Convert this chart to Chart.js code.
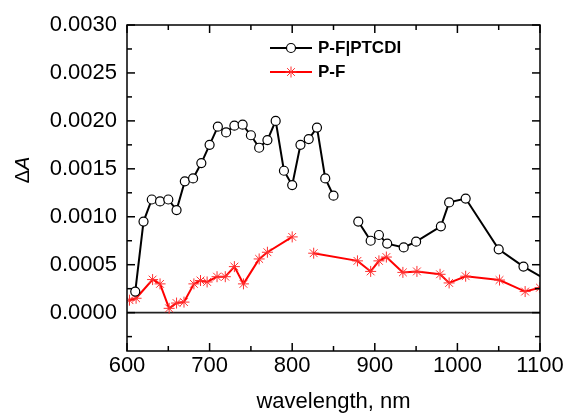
<!DOCTYPE html>
<html>
<head>
<meta charset="utf-8">
<script src="https://cdn.jsdelivr.net/npm/chart.js@4.4.0/dist/chart.umd.min.js"></script>
<style>
  html, body { margin: 0; padding: 0; background: #fff; }
  #wrap { width: 567px; height: 415px; }
</style>
</head>
<body>
<div id="wrap"><canvas id="chart"></canvas></div>
<script>
// values; a null marks a break in the line
const seriesNames = ['P-F|PTCDI', 'P-F'];

const ptcdiWl = [610, 620, 630, 640, 650, 660, 670, 680, 690, 700, 710, 720, 730, 740, 750,
                 760, 770, 780, 790, 800, 810, 820, 830, 840, 850, 865,
                 880, 895, 905, 915, 935, 950, 980, 990, 1010, 1050, 1080, 1110];
const ptcdiDA = [0.00022, 0.00095, 0.00118, 0.00116, 0.00118, 0.00107, 0.00137, 0.0014, 0.00156, 0.00175,
                 0.00194, 0.00188, 0.00195, 0.00196, 0.00185, 0.00172, 0.0018, 0.002, 0.00148, 0.00133,
                 0.00175, 0.00181, 0.00193, 0.0014, 0.00122, null,
                 0.00095, 0.00075, 0.00081, 0.00072, 0.00068, 0.00074, 0.0009, 0.00115, 0.00119,
                 0.00066, 0.00048, 0.00033];

const pfWl = [603, 611, 631, 640, 651, 660, 669, 681, 689, 697, 709, 719, 730, 741, 760, 770, 800, 812,
              826, 879, 895, 905, 914, 934, 951, 979, 990, 1010, 1051, 1082, 1100];
const pfDA = [0.00013, 0.00015, 0.000345, 0.0003, 0.000045, 0.0001, 0.00011, 0.0003, 0.000335, 0.00032,
              0.000375, 0.000375, 0.00048, 0.0003, 0.00056, 0.00063, 0.00079, null,
              0.00062, 0.00054, 0.00043, 0.00054, 0.00058, 0.00042, 0.00043, 0.0004, 0.00031, 0.00038,
              0.00034, 0.00022, 0.00026];

const xTicks = [600, 700, 800, 900, 1000, 1100];
const yTicks = [0, 0.0005, 0.001, 0.0015, 0.002, 0.0025, 0.003];

const FONT = '"Liberation Sans", Arial, sans-serif';

// box, inward ticks on all four sides, zero line, legend and y title
const framePlugin = {
    id: 'frame',
    beforeDatasetsDraw(chart) {
        const { ctx, chartArea: a, scales: { y } } = chart;
        const y0 = y.getPixelForValue(0);
        ctx.save();
        ctx.strokeStyle = '#222';
        ctx.lineWidth = 1.6;
        ctx.beginPath();
        ctx.moveTo(a.left, y0);
        ctx.lineTo(a.right, y0);
        ctx.stroke();
        ctx.restore();
    },
    afterDraw(chart) {
        const { ctx, chartArea: a, scales: { x, y } } = chart;
        ctx.save();
        ctx.strokeStyle = '#000';
        ctx.lineWidth = 1.5;
        ctx.strokeRect(a.left, a.top, a.right - a.left, a.bottom - a.top);

        const tick = (x1, y1, x2, y2) => {
            ctx.beginPath();
            ctx.moveTo(x1, y1);
            ctx.lineTo(x2, y2);
            ctx.stroke();
        };
        const xStep = xTicks[1] - xTicks[0];
        xTicks.forEach(v => {
            const px = x.getPixelForValue(v);
            tick(px, a.bottom, px, a.bottom - 8);
            tick(px, a.top, px, a.top + 8);
            const m = v + xStep / 2;
            if (m < x.max) {
                const pm = x.getPixelForValue(m);
                tick(pm, a.bottom, pm, a.bottom - 5);
                tick(pm, a.top, pm, a.top + 5);
            }
        });
        const yStep = yTicks[1] - yTicks[0];
        yTicks.forEach(v => {
            const py = y.getPixelForValue(v);
            tick(a.left, py, a.left + 8, py);
            tick(a.right, py, a.right - 8, py);
            const m = v - yStep / 2;
            if (m > y.min) {
                const pm = y.getPixelForValue(m);
                tick(a.left, pm, a.left + 5, pm);
                tick(a.right, pm, a.right - 5, pm);
            }
        });

        // legend
        chart.data.datasets.forEach((ds, i) => {
            const ly = 48 + i * 24;
            ctx.strokeStyle = ds.borderColor;
            ctx.lineWidth = 2;
            tick(270, ly, 312, ly);
            ctx.fillStyle = ds.pointBackgroundColor;
            ctx.strokeStyle = ds.pointBorderColor;
            ctx.lineWidth = ds.pointBorderWidth;
            Chart.helpers.drawPoint(ctx, {
                pointStyle: ds.pointStyle,
                radius: ds.pointRadius,
                borderWidth: ds.pointBorderWidth
            }, 291, ly);
            ctx.fillStyle = '#000';
            ctx.font = 'bold 17px ' + FONT;
            ctx.textBaseline = 'middle';
            ctx.textAlign = 'left';
            ctx.fillText(ds.label, 318, ly);
        });

        // y title: upright delta, italic A
        ctx.translate(23, 170);
        ctx.rotate(-Math.PI / 2);
        ctx.textBaseline = 'middle';
        ctx.fillStyle = '#000';
        ctx.font = '20px ' + FONT;
        const wd = ctx.measureText('\u0394').width;
        ctx.font = 'italic 20px ' + FONT;
        const wa = ctx.measureText('A').width;
        const start = -(wd + wa) / 2;
        ctx.font = '20px ' + FONT;
        ctx.textAlign = 'left';
        ctx.fillText('\u0394', start, 0);
        ctx.font = 'italic 20px ' + FONT;
        ctx.fillText('A', start + wd, 0);
        ctx.restore();
    }
};

const toPoints = (xs, ys) => xs.map((v, i) => ({ x: v, y: ys[i] }));

new Chart(document.getElementById('chart'), {
    type: 'line',
    data: {
        datasets: [
            {
                label: seriesNames[0],
                data: toPoints(ptcdiWl, ptcdiDA),
                borderColor: '#000',
                borderWidth: 2,
                pointStyle: 'circle',
                pointRadius: 4.5,
                pointBackgroundColor: '#fff',
                pointBorderColor: '#000',
                pointBorderWidth: 1.2,
                tension: 0,
                spanGaps: false
            },
            {
                label: seriesNames[1],
                data: toPoints(pfWl, pfDA),
                borderColor: '#ff0000',
                borderWidth: 2,
                pointStyle: 'star',
                pointRadius: 5.5,
                pointBackgroundColor: '#ff3030',
                pointBorderColor: '#ff3030',
                pointBorderWidth: 1,
                tension: 0,
                spanGaps: false
            }
        ]
    },
    options: {
        responsive: true,
        maintainAspectRatio: false,
        animation: false,
        layout: { padding: { top: 25, right: 27, left: 0, bottom: 0 } },
        plugins: {
            legend: { display: false },
            tooltip: { enabled: false }
        },
        scales: {
            x: {
                type: 'linear',
                min: 600,
                max: 1100,
                afterBuildTicks: s => { s.ticks = xTicks.map(v => ({ value: v })); },
                afterFit: s => { s.height = 64; },
                grid: { display: false, drawTicks: false },
                border: { display: false },
                ticks: {
                    color: '#000',
                    padding: 2,
                    maxRotation: 0,
                    font: { family: FONT, size: 22 },
                    callback: v => v
                },
                title: {
                    display: true,
                    text: 'wavelength, nm',
                    color: '#000',
                    font: { family: FONT, size: 22 },
                    padding: { top: 0, bottom: 0 }
                }
            },
            y: {
                min: -0.0004,
                max: 0.003,
                afterBuildTicks: s => { s.ticks = yTicks.map(v => ({ value: v })); },
                afterFit: s => { s.width = 127; },
                grid: { display: false, drawTicks: false },
                border: { display: false },
                ticks: {
                    color: '#000',
                    padding: 10,
                    font: { family: FONT, size: 22 },
                    callback: v => v.toFixed(4)
                }
            }
        }
    },
    plugins: [framePlugin]
});
</script>
</body>
</html>
